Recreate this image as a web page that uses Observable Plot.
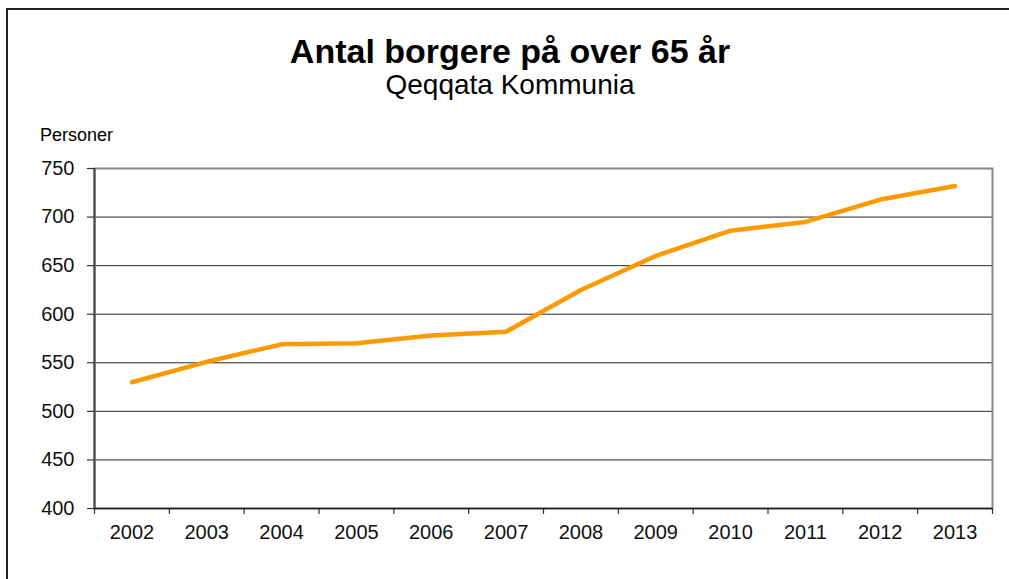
<!DOCTYPE html>
<html>
<head>
<meta charset="utf-8">
<script src="https://cdn.jsdelivr.net/npm/d3@7"></script>
<script src="https://cdn.jsdelivr.net/npm/@observablehq/plot@0.6"></script>
<style>
  html, body { margin: 0; padding: 0; background: #fff; }
  #wrap { position: relative; width: 1009px; height: 579px; overflow: hidden; font-family: "Liberation Sans", Arial, sans-serif; }
  #border { position: absolute; left: 6px; top: 8px; width: 1100px; height: 1000px; border: 2px solid #222; box-sizing: border-box; }
  .t { position: absolute; white-space: nowrap; line-height: 1; color: #000; }
  #title { left: 0; width: 1020px; text-align: center; top: 34px; font-size: 34px; font-weight: bold; }
  #subtitle { left: 0; width: 1020px; text-align: center; top: 71px; font-size: 28px; }
  #ylabel { left: 40px; top: 126px; font-size: 18px; }
  #chart { position: absolute; left: 0; top: 0; }
</style>
</head>
<body>
<div id="wrap">
  <div id="border"></div>
  <div id="chart"></div>
  <div class="t" id="title"></div>
  <div class="t" id="subtitle"></div>
  <div class="t" id="ylabel"></div>
</div>
<script>
const titleText = "Antal borgere på over 65 år";
const subtitleText = "Qeqqata Kommunia";
const yLabelText = "Personer";
const years = [2002, 2003, 2004, 2005, 2006, 2007, 2008, 2009, 2010, 2011, 2012, 2013];
const values = [530, 551, 569, 570, 578, 582, 625, 660, 686, 695, 718, 732];
const yTicks = [400, 450, 500, 550, 600, 650, 700, 750];
const yearBoundaries = [2001.5, 2002.5, 2003.5, 2004.5, 2005.5, 2006.5, 2007.5, 2008.5, 2009.5, 2010.5, 2011.5, 2012.5, 2013.5];

document.getElementById("title").textContent = titleText;
document.getElementById("subtitle").textContent = subtitleText;
document.getElementById("ylabel").textContent = yLabelText;

const data = years.map((y, i) => ({year: y, value: values[i]}));

const chart = Plot.plot({
  width: 1009,
  height: 579,
  marginLeft: 94,
  marginRight: 17,
  marginTop: 168,
  marginBottom: 71,
  style: {fontFamily: "Liberation Sans, Arial, sans-serif", background: "transparent", color: "#000"},
  x: {domain: [yearBoundaries[0], yearBoundaries[yearBoundaries.length - 1]], label: null},
  y: {domain: [400, 750], label: null},
  marks: [
    Plot.gridY(yTicks.slice(1, -1), {stroke: "#111", strokeOpacity: 0.9, strokeWidth: 1}),
    Plot.frame({stroke: "#888", strokeWidth: 2}),
    Plot.axisY(yTicks, {label: null, tickSize: 7, tickPadding: 13, fontSize: 20, stroke: "#333", strokeWidth: 1.2, fill: "#111"}),
    Plot.axisX(yearBoundaries, {label: null, tickSize: 6, tickFormat: () => "", stroke: "#333", strokeWidth: 1.2}),
    Plot.axisX(years, {label: null, tickSize: 0, tickPadding: 16, fontSize: 20, tickFormat: d => String(d), fill: "#111"}),
    Plot.ruleX([yearBoundaries[0]], {stroke: "#444", strokeWidth: 2}),
    Plot.ruleY([400], {stroke: "#222", strokeWidth: 1.5}),
    Plot.line(data, {x: "year", y: "value", stroke: "#FF9900", strokeWidth: 4.5, strokeLinejoin: "round", strokeLinecap: "round"})
  ]
});
document.getElementById("chart").appendChild(chart);
</script>
</body>
</html>
